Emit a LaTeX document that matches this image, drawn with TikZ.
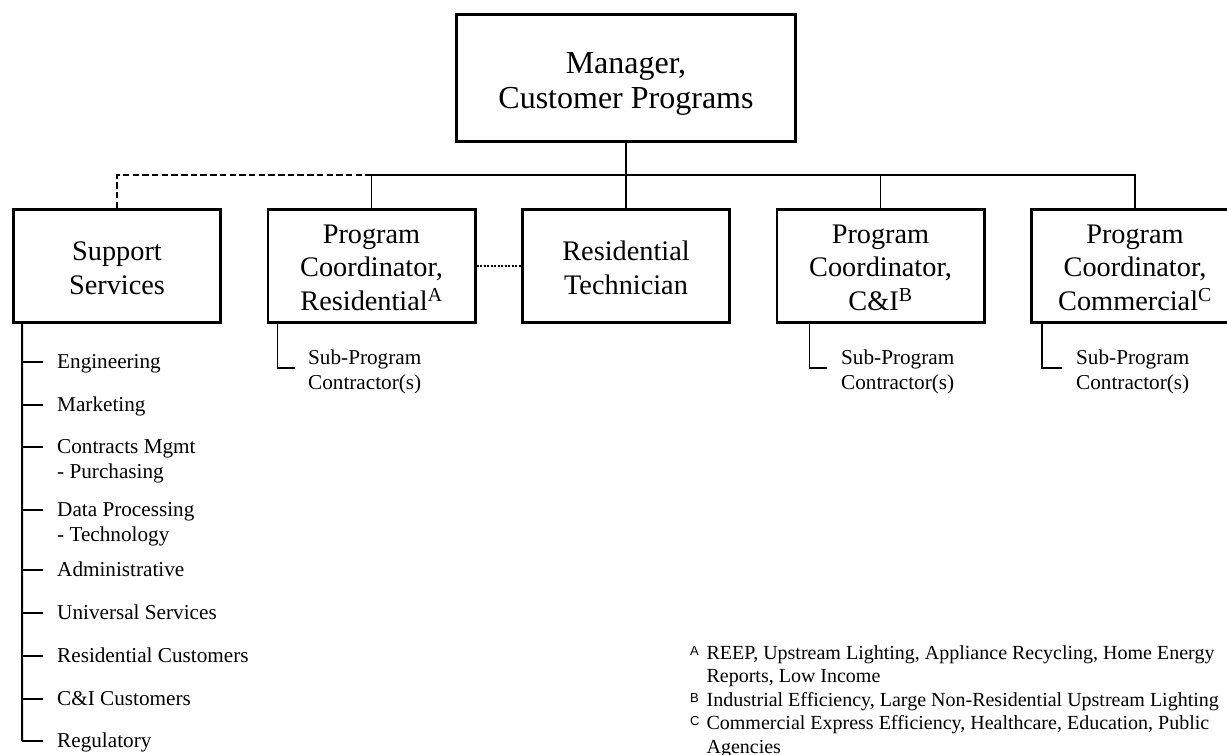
\documentclass[tikz,border=0pt]{standalone}
\usepackage{fontspec}
\setmainfont{Liberation Serif}
\newfontfamily\notefont{Liberation Sans}
\usetikzlibrary{positioning}
\newcommand{\notemark}[1]{\raisebox{4pt}{\notefont\fontsize{13}{13}\selectfont #1}}
\newcommand{\boxlines}[2]{\raisebox{#1}[\height][\depth]{\begin{tabular}{@{}c@{}}#2\end{tabular}}}
\tikzset{
  orgbox/.style={
    draw, line width=2.7pt, minimum width=207.3pt, minimum height=113.3pt,
    align=center, inner sep=1pt, font=\fontsize{28.3}{33.5}\selectfont
  },
  headbox/.style={orgbox, minimum width=339.3pt, minimum height=127.3pt,
    font=\fontsize{32}{35}\selectfont},
  link/.style={line width=1.3pt},
  dashlink/.style={line width=1.3pt, dash pattern=on 6.5pt off 3.2pt},
  finedash/.style={line width=1.3pt, dash pattern=on 2.2pt off 1.3pt},
  spine/.style={line width=2pt},
  item/.style={anchor=base west, inner sep=0pt, font=\fontsize{21.2}{25.5}\selectfont},
  notes/.style={anchor=base west, inner sep=0pt, font=\fontsize{20}{23.5}\selectfont}
}

\begin{document}
\begin{tikzpicture}[x=1pt, y=-1pt, node distance=44.5pt]
  \useasboundingbox (0,0) rectangle (1227,755);
  \fill[white] (0,0) rectangle (1227,755);
  \clip (0,0) rectangle (1227,755);

  % top of the chart
  \node[headbox] (mgr) at (626,78) {\boxlines{-6pt}{Manager,\\Customer Programs}};
  \node[orgbox, below=65pt of mgr] (res) {\boxlines{-5pt}{Residential\\Technician}};
  \node[orgbox, left=of res] (pcr) {\boxlines{-4pt}{Program\\Coordinator,\\Residential\textsuperscript{A}}};
  \node[orgbox, left=of pcr] (sup) {\boxlines{-5pt}{Support\\Services}};
  \node[orgbox, right=of res] (cni) {\boxlines{-4pt}{Program\\Coordinator,\\C\&I\textsuperscript{B}}};
  \node[orgbox, right=of cni] (cml) {\boxlines{-4pt}{Program\\Coordinator,\\Commercial\textsuperscript{C}}};
  \coordinate[yshift=-32pt] (bus) at (mgr.south);

  \draw[link] (mgr.south) -- (res.north);
  \draw[link] (pcr.north) -- (pcr.north |- bus) -| (cml.north);
  \draw[link] (cni.north) -- (cni.north |- bus);
  \draw[dashlink] (sup.north) |- (pcr.north |- bus);
  \draw[finedash] (pcr.east) -- (res.west);

  % sub-program contractors
  \node[item] (pcrsub) at (308,364) {\begin{tabular}[t]{@{}l@{}}Sub-Program\\Contractor(s)\end{tabular}};
  \node[item] (cnisub) at (841,364) {\begin{tabular}[t]{@{}l@{}}Sub-Program\\Contractor(s)\end{tabular}};
  \node[item] (cmlsub) at (1076,364) {\begin{tabular}[t]{@{}l@{}}Sub-Program\\Contractor(s)\end{tabular}};
  \draw[link] ([xshift=11pt]pcr.south west) |- ([xshift=-13pt,yshift=-4pt]pcrsub.base west);
  \draw[link] ([xshift=34pt]cni.south west) |- ([xshift=-14pt,yshift=-4pt]cnisub.base west);
  \draw[link] ([xshift=12pt]cml.south west) |- ([xshift=-14pt,yshift=-4pt]cmlsub.base west);

  % support services list
  \node[item] (eng) at (57,368) {Engineering};
  \node[item] (mkt) at (57,411) {Marketing};
  \node[item] (cmg) at (57,453) {\begin{tabular}[t]{@{}l@{}}Contracts Mgmt\\- Purchasing\end{tabular}};
  \node[item] (dpt) at (57,516) {\begin{tabular}[t]{@{}l@{}}Data Processing\\- Technology\end{tabular}};
  \node[item] (adm) at (57,576) {Administrative};
  \node[item] (uni) at (57,619) {Universal Services};
  \node[item] (rcu) at (57,662) {Residential Customers};
  \node[item] (cic) at (57,705) {C\&I Customers};
  \node[item] (reg) at (57,747) {Regulatory};

  \draw[spine] ([xshift=10pt]sup.south west) -- ([xshift=-35pt,yshift=6pt]reg.base west);
  \draw[link] ([xshift=-35pt,yshift=6pt]eng.base west) -- ++(21,0);
  \draw[link] ([xshift=-35pt,yshift=6pt]mkt.base west) -- ++(21,0);
  \draw[link] ([xshift=-35pt,yshift=6pt]cmg.base west) -- ++(21,0);
  \draw[link] ([xshift=-35pt,yshift=6pt]dpt.base west) -- ++(21,0);
  \draw[link] ([xshift=-35pt,yshift=6pt]adm.base west) -- ++(21,0);
  \draw[link] ([xshift=-35pt,yshift=6pt]uni.base west) -- ++(21,0);
  \draw[link] ([xshift=-35pt,yshift=6pt]rcu.base west) -- ++(21,0);
  \draw[link] ([xshift=-35pt,yshift=6pt]cic.base west) -- ++(21,0);
  \draw[link] ([xshift=-35pt,yshift=6pt]reg.base west) -- ++(21,0);

  % notes
  \node[notes] (fnotes) at (690,659) {%
    \begin{tabular}[t]{@{}l@{\hspace{7pt}}l@{}}
      \notemark{A} & REEP, Upstream Lighting, Appliance Recycling, Home Energy\\
                   & Reports, Low Income\\
      \notemark{B} & Industrial Efficiency, Large Non-Residential Upstream Lighting\\
      \notemark{C} & Commercial Express Efficiency, Healthcare, Education, Public\\
                   & Agencies
    \end{tabular}};
\end{tikzpicture}
\end{document}
